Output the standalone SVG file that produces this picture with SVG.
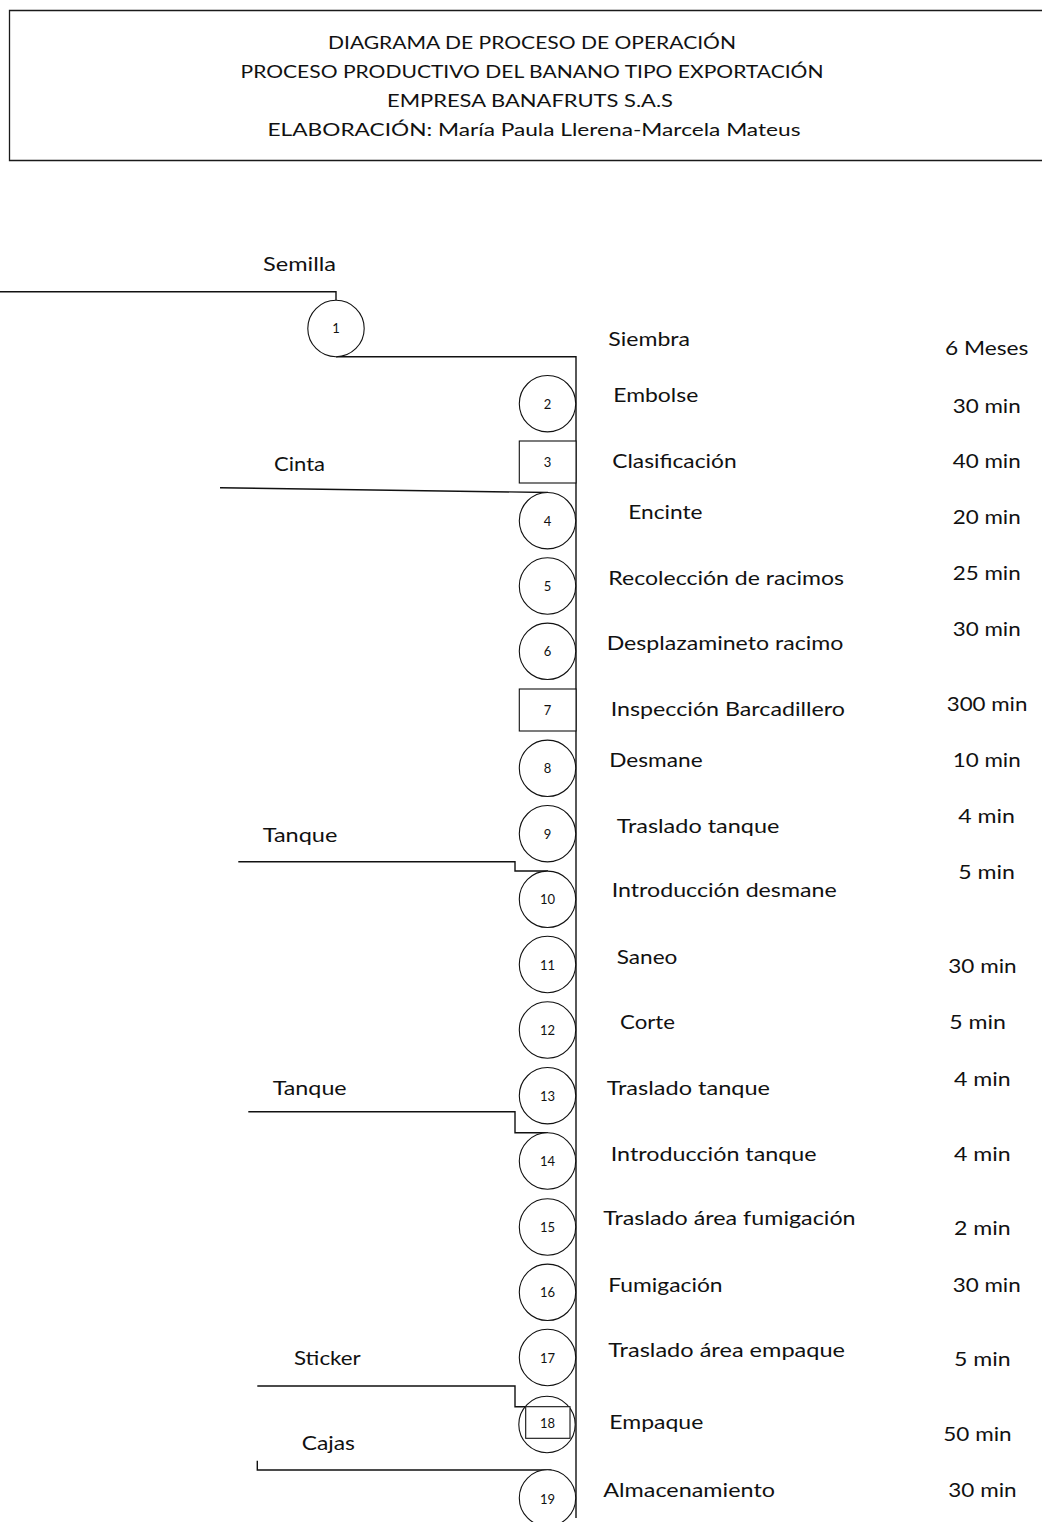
<svg xmlns="http://www.w3.org/2000/svg" width="1042" height="1522" viewBox="0 0 1042 1522">
<style>
  .bg{fill:#fff}
  .frame{fill:none;stroke:#1a1a1a;stroke-width:1.3}
  .hdr{font-family:Lato,"Liberation Sans",sans-serif;font-size:18px;fill:#111;text-anchor:middle}
  .lbl{font-family:Lato,"Liberation Sans",sans-serif;font-size:19px;fill:#111}
  .num{font-family:Lato,"Liberation Sans",sans-serif;font-size:13px;fill:#111;text-anchor:middle}
  .shape{fill:#fff;stroke:#111;stroke-width:1.1}
  .conn{fill:none;stroke:#111;stroke-width:1.4}
</style>
<rect class="bg" x="0" y="0" width="1042" height="1522"/>

<g id="header">
  <path class="frame" d="M1042,10.5 H9.5 V160.5 H1042"/>
  <text class="hdr" x="532" y="49" textLength="408" lengthAdjust="spacingAndGlyphs">DIAGRAMA DE PROCESO DE OPERACIÓN</text>
  <text class="hdr" x="532" y="78" textLength="583" lengthAdjust="spacingAndGlyphs">PROCESO PRODUCTIVO DEL BANANO TIPO EXPORTACIÓN</text>
  <text class="hdr" x="530" y="107" textLength="286" lengthAdjust="spacingAndGlyphs">EMPRESA BANAFRUTS S.A.S</text>
  <text class="hdr" x="534" y="136" textLength="533" lengthAdjust="spacingAndGlyphs">ELABORACIÓN: María Paula Llerena-Marcela Mateus</text>
</g>

<g id="connectors">
  <path class="conn" d="M0,291.7 H336 V300"/>
  <path class="conn" d="M336,356.7 H576 V1518"/>
  <path class="conn" d="M220,487.7 L548,492.5"/>
  <path class="conn" d="M238.3,861.7 H515 V871 H548"/>
  <path class="conn" d="M248.3,1111.7 H515 V1132.8 H548"/>
  <path class="conn" d="M257.3,1386 H515 V1406.7 H547.3"/>
  <path class="conn" d="M547.3,1396 V1406.7"/>
  <path class="conn" d="M257.3,1460.7 V1470 H551.5"/>
</g>

<g id="inputs">
  <text class="lbl" x="263" y="271" textLength="73" lengthAdjust="spacingAndGlyphs">Semilla</text>
  <text class="lbl" x="274" y="471" textLength="51" lengthAdjust="spacingAndGlyphs">Cinta</text>
  <text class="lbl" x="262.7" y="842" textLength="74.7" lengthAdjust="spacingAndGlyphs">Tanque</text>
  <text class="lbl" x="272.7" y="1095" textLength="74" lengthAdjust="spacingAndGlyphs">Tanque</text>
  <text class="lbl" x="294" y="1365" textLength="66.7" lengthAdjust="spacingAndGlyphs">Sticker</text>
  <text class="lbl" x="301.7" y="1450" textLength="53.3" lengthAdjust="spacingAndGlyphs">Cajas</text>
</g>

<g id="n1"><circle class="shape" cx="336" cy="328.5" r="28.2"/><text class="num" x="336" y="333">1</text>
  <text class="lbl" x="608.3" y="346" textLength="81.7" lengthAdjust="spacingAndGlyphs">Siembra</text>
  <text class="lbl" x="945" y="355" textLength="83.3" lengthAdjust="spacingAndGlyphs">6 Meses</text></g>
<g id="n2"><circle class="shape" cx="547.5" cy="403.7" r="28.2"/><text class="num" x="547.5" y="408.5">2</text>
  <text class="lbl" x="613.3" y="401.7" textLength="85" lengthAdjust="spacingAndGlyphs">Embolse</text>
  <text class="lbl" x="952.7" y="412.7" textLength="68" lengthAdjust="spacingAndGlyphs">30 min</text></g>
<g id="n3"><rect class="shape" x="519.3" y="441" width="56.7" height="42"/><text class="num" x="547.5" y="466.5">3</text>
  <text class="lbl" x="612.3" y="467.7" textLength="124.3" lengthAdjust="spacingAndGlyphs">Clasificación</text>
  <text class="lbl" x="952.7" y="467.7" textLength="68" lengthAdjust="spacingAndGlyphs">40 min</text></g>
<g id="n4"><circle class="shape" cx="547.5" cy="520.7" r="28.2"/><text class="num" x="547.5" y="525.5">4</text>
  <text class="lbl" x="628.3" y="519" textLength="74.3" lengthAdjust="spacingAndGlyphs">Encinte</text>
  <text class="lbl" x="952.7" y="524" textLength="68" lengthAdjust="spacingAndGlyphs">20 min</text></g>
<g id="n5"><circle class="shape" cx="547.5" cy="586" r="28.2"/><text class="num" x="547.5" y="591">5</text>
  <text class="lbl" x="608.3" y="585" textLength="235.7" lengthAdjust="spacingAndGlyphs">Recolección de racimos</text>
  <text class="lbl" x="952.7" y="580" textLength="68" lengthAdjust="spacingAndGlyphs">25 min</text></g>
<g id="n6"><circle class="shape" cx="547.5" cy="651.3" r="28.2"/><text class="num" x="547.5" y="656.3">6</text>
  <text class="lbl" x="606.7" y="650" textLength="236.7" lengthAdjust="spacingAndGlyphs">Desplazamineto racimo</text>
  <text class="lbl" x="952.7" y="636" textLength="68" lengthAdjust="spacingAndGlyphs">30 min</text></g>
<g id="n7"><rect class="shape" x="519.3" y="689" width="56.7" height="42"/><text class="num" x="547.5" y="714.5">7</text>
  <text class="lbl" x="610.7" y="716" textLength="234.3" lengthAdjust="spacingAndGlyphs">Inspección Barcadillero</text>
  <text class="lbl" x="946.7" y="710.7" textLength="80.7" lengthAdjust="spacingAndGlyphs">300 min</text></g>
<g id="n8"><circle class="shape" cx="547.5" cy="768.3" r="28.2"/><text class="num" x="547.5" y="773.3">8</text>
  <text class="lbl" x="609.3" y="766.7" textLength="93.3" lengthAdjust="spacingAndGlyphs">Desmane</text>
  <text class="lbl" x="952.7" y="766.7" textLength="68" lengthAdjust="spacingAndGlyphs">10 min</text></g>
<g id="n9"><circle class="shape" cx="547.5" cy="833.7" r="28.2"/><text class="num" x="547.5" y="838.5">9</text>
  <text class="lbl" x="616.7" y="832.7" textLength="162.7" lengthAdjust="spacingAndGlyphs">Traslado tanque</text>
  <text class="lbl" x="958.3" y="823.3" textLength="56.7" lengthAdjust="spacingAndGlyphs">4 min</text></g>
<g id="n10"><circle class="shape" cx="547.5" cy="899.3" r="28.2"/><text class="num" x="547.5" y="904.3">10</text>
  <text class="lbl" x="611.7" y="897.3" textLength="225" lengthAdjust="spacingAndGlyphs">Introducción desmane</text>
  <text class="lbl" x="958.3" y="879.3" textLength="56.7" lengthAdjust="spacingAndGlyphs">5 min</text></g>
<g id="n11"><circle class="shape" cx="547.5" cy="964.5" r="28.2"/><text class="num" x="547.5" y="969.5">11</text>
  <text class="lbl" x="616.7" y="964" textLength="60.7" lengthAdjust="spacingAndGlyphs">Saneo</text>
  <text class="lbl" x="948.3" y="973.3" textLength="68.3" lengthAdjust="spacingAndGlyphs">30 min</text></g>
<g id="n12"><circle class="shape" cx="547.5" cy="1030" r="28.2"/><text class="num" x="547.5" y="1035">12</text>
  <text class="lbl" x="620" y="1029" textLength="55" lengthAdjust="spacingAndGlyphs">Corte</text>
  <text class="lbl" x="949.3" y="1029" textLength="56.7" lengthAdjust="spacingAndGlyphs">5 min</text></g>
<g id="n13"><circle class="shape" cx="547.5" cy="1095.7" r="28.2"/><text class="num" x="547.5" y="1100.5">13</text>
  <text class="lbl" x="606.7" y="1095" textLength="163.3" lengthAdjust="spacingAndGlyphs">Traslado tanque</text>
  <text class="lbl" x="954" y="1086" textLength="56.7" lengthAdjust="spacingAndGlyphs">4 min</text></g>
<g id="n14"><circle class="shape" cx="547.5" cy="1161" r="28.2"/><text class="num" x="547.5" y="1166">14</text>
  <text class="lbl" x="610.7" y="1160.7" textLength="206" lengthAdjust="spacingAndGlyphs">Introducción tanque</text>
  <text class="lbl" x="954" y="1160.7" textLength="56.7" lengthAdjust="spacingAndGlyphs">4 min</text></g>
<g id="n15"><circle class="shape" cx="547.5" cy="1227" r="28.2"/><text class="num" x="547.5" y="1232">15</text>
  <text class="lbl" x="603.3" y="1225" textLength="252.3" lengthAdjust="spacingAndGlyphs">Traslado área fumigación</text>
  <text class="lbl" x="954" y="1235" textLength="56.7" lengthAdjust="spacingAndGlyphs">2 min</text></g>
<g id="n16"><circle class="shape" cx="547.5" cy="1292.3" r="28.2"/><text class="num" x="547.5" y="1297.3">16</text>
  <text class="lbl" x="608.3" y="1291.7" textLength="114.3" lengthAdjust="spacingAndGlyphs">Fumigación</text>
  <text class="lbl" x="952.7" y="1291.7" textLength="68" lengthAdjust="spacingAndGlyphs">30 min</text></g>
<g id="n17"><circle class="shape" cx="547.5" cy="1357.5" r="28.2"/><text class="num" x="547.5" y="1362.5">17</text>
  <text class="lbl" x="608.3" y="1356.7" textLength="236.7" lengthAdjust="spacingAndGlyphs">Traslado área empaque</text>
  <text class="lbl" x="954" y="1366" textLength="56.7" lengthAdjust="spacingAndGlyphs">5 min</text></g>
<g id="n18"><circle class="shape" cx="547" cy="1424.5" r="28.2"/>
  <rect class="shape" x="525.7" y="1406.7" width="44.3" height="31.6"/>
  <text class="num" x="547.5" y="1427.5">18</text>
  <text class="lbl" x="609.3" y="1429.3" textLength="94" lengthAdjust="spacingAndGlyphs">Empaque</text>
  <text class="lbl" x="943.3" y="1440.7" textLength="68.3" lengthAdjust="spacingAndGlyphs">50 min</text></g>
<g id="n19"><circle class="shape" cx="547.5" cy="1498" r="28.2"/><text class="num" x="547.5" y="1504">19</text>
  <text class="lbl" x="603.3" y="1497.3" textLength="171.7" lengthAdjust="spacingAndGlyphs">Almacenamiento</text>
  <text class="lbl" x="948.3" y="1497.3" textLength="68.3" lengthAdjust="spacingAndGlyphs">30 min</text></g>
</svg>
